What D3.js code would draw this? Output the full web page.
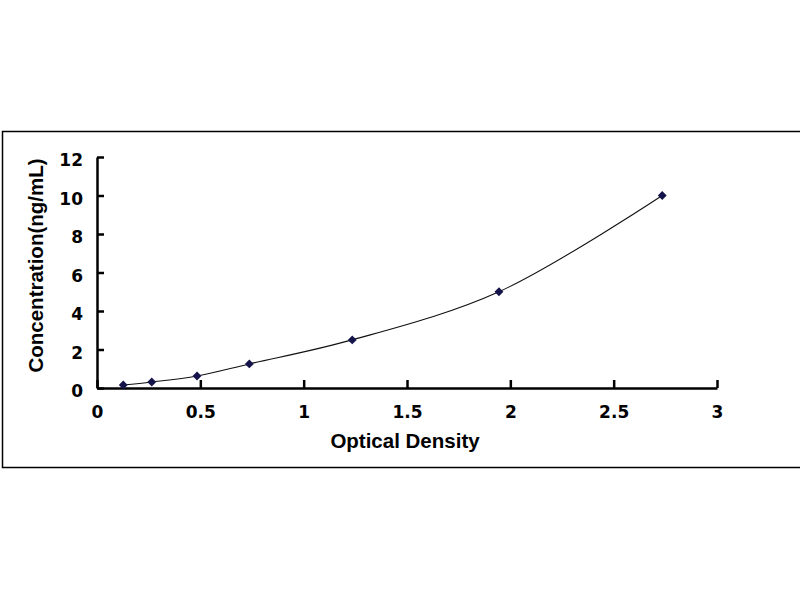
<!DOCTYPE html>
<html><head><meta charset="utf-8">
<script src="https://cdn.jsdelivr.net/npm/d3@7"></script>
<style>body{margin:0;background:#fff}svg{display:block}</style>
</head><body>
<svg id="c" width="800" height="600"></svg>
<script>
const opticalDensity = [0.127, 0.265, 0.484, 0.737, 1.235, 1.945, 2.735];
const concentration = [0.156, 0.312, 0.625, 1.25, 2.5, 5, 10];
const xTicks = [0, 0.5, 1, 1.5, 2, 2.5, 3];
const yTicks = [0, 2, 4, 6, 8, 10, 12];

const svg = d3.select("#c");
svg.append("rect").attr("x", 2.5).attr("y", 131.5).attr("width", 810).attr("height", 336)
  .attr("fill", "none").attr("stroke", "#000").attr("stroke-width", 1.5);

const x = d3.scaleLinear().domain([0, 3]).range([97, 717]);
const y = d3.scaleLinear().domain([0, 12]).range([388, 157]);
const font = "'Liberation Sans', Arial, sans-serif";
const tickFont = "'DejaVu Sans', sans-serif";

const xAxis = svg.append("g").attr("transform", "translate(0,388)")
  .call(d3.axisBottom(x).tickValues(xTicks).tickSize(-8).tickSizeOuter(0).tickPadding(18)
    .tickFormat(d => d3.format("")(d)));
const yAxis = svg.append("g").attr("transform", "translate(97,0)")
  .call(d3.axisLeft(y).tickValues(yTicks).tickSize(-7).tickSizeOuter(0).tickPadding(14));
yAxis.selectAll(".tick text").attr("dy", "0.52em");

[xAxis, yAxis].forEach(g => {
  g.select(".domain").attr("stroke", "#000").attr("stroke-width", 2.5);
  g.selectAll(".tick line").attr("stroke", "#000").attr("stroke-width", 2.5);
  g.selectAll("text").attr("fill", "#000").style("font-family", tickFont)
    .style("font-weight", "bold").style("font-size", "17px");
});

svg.append("text").attr("x", 405).attr("y", 448).attr("text-anchor", "middle")
  .style("font-family", font).style("font-weight", "bold").style("font-size", "20.5px")
  .text("Optical Density");
svg.append("text").attr("transform", "translate(43,265.5) rotate(-90)").attr("text-anchor", "middle")
  .style("font-family", font).style("font-weight", "bold").style("font-size", "20.5px")
  .text("Concentration(ng/mL)");

const pts = opticalDensity.map((d, i) => [d, concentration[i]]);
const line = d3.line().x(d => x(d[0])).y(d => y(d[1])).curve(d3.curveCatmullRom.alpha(0.5));
svg.append("path").datum(pts).attr("d", line).attr("fill", "none")
  .attr("stroke", "#111").attr("stroke-width", 1.1);

svg.selectAll(".pt").data(pts).enter().append("path")
  .attr("transform", d => `translate(${x(d[0])},${y(d[1])})`)
  .attr("d", d3.symbol(d3.symbolDiamond2, 50)())
  .attr("fill", "#14144a");
</script>
</body></html>
